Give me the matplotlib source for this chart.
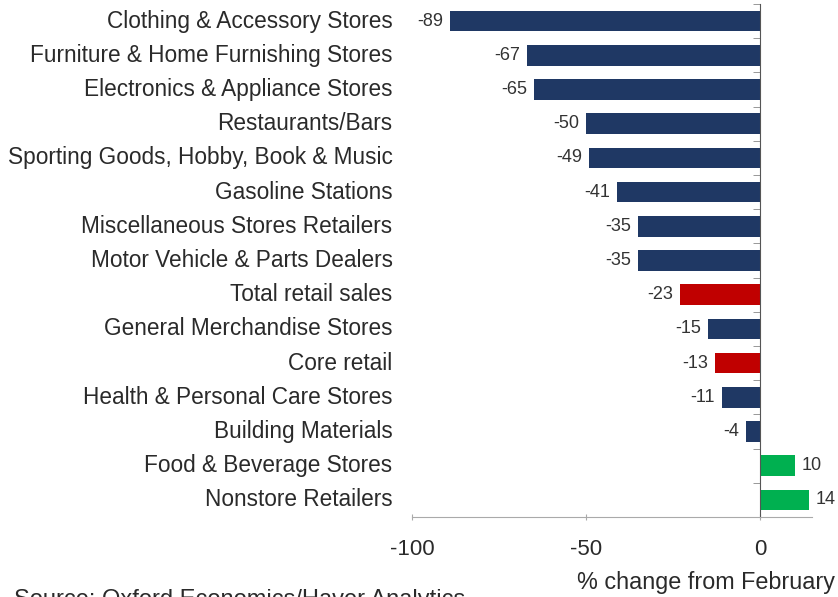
import numpy as np
import matplotlib.pyplot as plt

plt.rcParams['font.family'] = ['Liberation Sans', 'DejaVu Sans']

# Categorías y variación (%) respecto a febrero
categorias = [
    "Clothing & Accessory Stores",
    "Furniture & Home Furnishing Stores",
    "Electronics & Appliance Stores",
    "Restaurants/Bars",
    "Sporting Goods, Hobby, Book & Music",
    "Gasoline Stations",
    "Miscellaneous Stores Retailers",
    "Motor Vehicle & Parts Dealers",
    "Total retail sales",
    "General Merchandise Stores",
    "Core retail",
    "Health & Personal Care Stores",
    "Building Materials",
    "Food & Beverage Stores",
    "Nonstore Retailers",
]
valores = [-89, -67, -65, -50, -49, -41, -35, -35, -23, -15, -13, -11, -4, 10, 14]
totales = ["Total retail sales", "Core retail"]

AZUL, ROJO, VERDE = '#1f3864', '#c00000', '#00b050'
colores = []
for c, v in zip(categorias, valores):
    if c in totales:
        colores.append(ROJO)
    elif v > 0:
        colores.append(VERDE)
    else:
        colores.append(AZUL)

fig = plt.figure(figsize=(8.38, 5.97), dpi=100)
ax = fig.add_axes([412/838, 1 - 517/597, 400/838, 513/597])

y = np.arange(len(categorias))
ax.barh(y, valores, height=0.6, color=colores)

# etiquetas de valor junto a cada barra
for yi, v in zip(y, valores):
    if v < 0:
        ax.text(v - 2, yi, str(v), va='center', ha='right', fontsize=13, color='#333333')
    else:
        ax.text(v + 2, yi, str(v), va='center', ha='left', fontsize=13, color='#333333')

# nombres de categoría a la izquierda del área de ejes
for yi, c in zip(y, categorias):
    ax.annotate(c, xy=(0, yi), xycoords=ax.get_yaxis_transform(),
                xytext=(-14, 0), textcoords='offset points',
                ha='right', va='center', fontsize=16.3, color='#2a2a2a')

ax.set_ylim(14.5, -0.5)
ax.set_xlim(-100, 15)
ax.set_yticks([])
ax.set_yticks(np.arange(-0.5, 15, 1), minor=True)
ax.tick_params(axis='y', which='minor', length=5, color='#888888', direction='out')

ax.set_xticks([-100, -50, 0])
ax.set_xticklabels(['-100', '-50', '0'], fontsize=16, color='#2a2a2a')
ax.tick_params(axis='x', length=5, direction='inout', color='#aaaaaa', pad=13)

for s in ['top', 'right']:
    ax.spines[s].set_visible(False)
ax.spines['left'].set_position(('data', 0))
ax.spines['left'].set_color('#555555')
ax.spines['bottom'].set_color('#aaaaaa')

fig.text(835/838, 1 - 582/597, "% change from February", ha='right', va='center',
         fontsize=16.8, color='#2a2a2a')
fig.text(14/838, 1 - 600/597, "Source: Oxford Economics/Haver Analytics", ha='left', va='center',
         fontsize=17, color='#2a2a2a')

fig.savefig('out.png', dpi=100)
